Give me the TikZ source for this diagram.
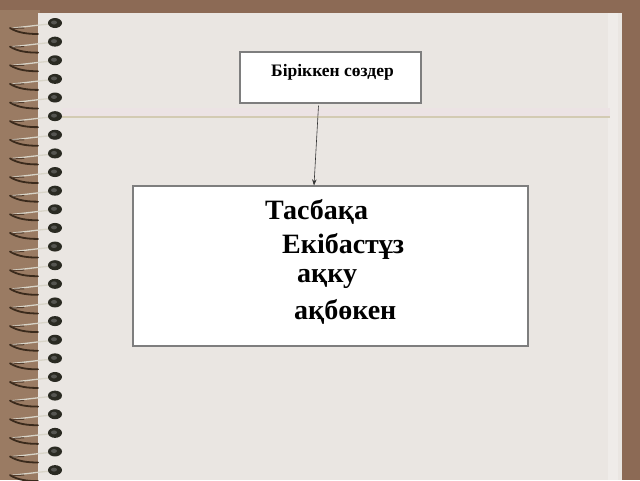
\documentclass[tikz,border=0pt]{standalone}
\usepackage{fontspec}
\setmainfont{Liberation Serif}
\usetikzlibrary{arrows.meta}
\definecolor{bgbrown}{HTML}{8C6A55}
\definecolor{bgtan}{HTML}{9A7B63}
\definecolor{paper}{HTML}{EAE6E2}
\definecolor{ruleline}{HTML}{D3CBB3}
\definecolor{pinkband}{HTML}{ECE3E4}
\definecolor{holedark}{HTML}{2A2A22}
\definecolor{wiredark}{HTML}{3A2A1C}
\definecolor{wirelight}{HTML}{D8D4C8}
\definecolor{boxborder}{HTML}{7E7E7E}
\tikzset{
  box/.style={draw=boxborder, line width=1.2pt, fill=white, inner sep=0pt},
  bigword/.style={font=\fontsize{28}{30}\selectfont\bfseries, anchor=base west, inner sep=0pt},
  smallword/.style={font=\fontsize{17.5}{20}\selectfont\bfseries, anchor=base west, inner sep=0pt},
  conn/.style={-{Stealth[length=6pt,width=4.5pt]}, line width=0.6pt, black!80}
}
\begin{document}
\begin{tikzpicture}[x=1pt,y=-1pt]
\useasboundingbox (0,0) rectangle (640,480);
% background
\fill[bgbrown] (0,0) rectangle (640,480);
\fill[bgtan] (0,10) rectangle (40,480);
% page
\fill[paper] (38,13) rectangle (622,480);
\fill[white!25!paper] (608,13) rectangle (618,480);
% ruled line
\fill[pinkband] (62,108) rectangle (610,116);
\draw[ruleline, line width=1.5pt] (62,117) -- (610,117);
% spiral rings
\foreach \i in {0,...,24}{
  \pgfmathsetmacro{\yy}{23+18.63*\i}
  \draw[wiredark, line width=1.8pt, line cap=round] (10,\yy+5) .. controls (18,\yy+10) and (28,\yy+11) .. (38,\yy+11);
  \draw[wirelight, line width=1.3pt, line cap=round] (50,\yy+1) .. controls (38,\yy+2) and (24,\yy+4) .. (13,\yy+5);
  \draw[wiredark!70!bgbrown, line width=1pt, line cap=round] (24,\yy+5) -- (12,\yy+5.5);
  \fill[holedark] (55,\yy) ellipse [x radius=7, y radius=5];
  \fill[gray!50!holedark] (54,\yy-0.5) ellipse [x radius=3, y radius=2];
}
% boxes
\node[box, minimum width=181pt, minimum height=51pt] (top) at (330.5,77.5) {};
\node[smallword] (toptext) at (271,76) {Біріккен сөздер};
\node[box, minimum width=395pt, minimum height=160pt] (big) at (330.5,266) {};
\node[bigword] (w1) at (265,219) {Тасбақа};
\node[bigword] (w2) at (282,253) {Екібастұз};
\node[bigword] (w3) at (297,282) {ақку};
\node[bigword] (w4) at (294,319) {ақбөкен};
% connector
\draw[conn] ([xshift=-12pt,yshift=-2pt]top.south) -- ([xshift=-16.5pt]big.north);
\end{tikzpicture}
\end{document}
